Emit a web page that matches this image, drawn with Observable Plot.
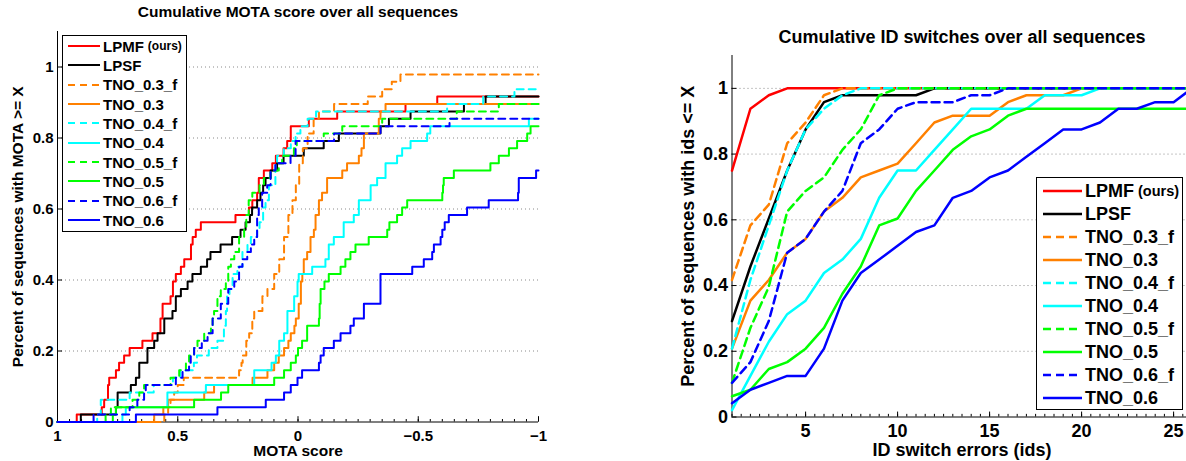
<!DOCTYPE html>
<html><head><meta charset="utf-8">
<script src="https://cdn.jsdelivr.net/npm/d3@7"></script>
<script src="https://cdn.jsdelivr.net/npm/@observablehq/plot@0.6"></script>
<style>
html,body{margin:0;padding:0;background:#fff;}
#wrap{position:relative;width:1186px;height:461px;overflow:hidden;font-family:"Liberation Sans",Arial,Helvetica,sans-serif;font-weight:bold;color:#000;}
#wrap svg.panel{position:absolute;top:0;}
.legend{position:absolute;background:#fff;border:1px solid #000;box-sizing:border-box;}
.legend .row{display:flex;align-items:center;white-space:nowrap;}
</style></head><body><div id="wrap"></div>
<script>
// ---------- common series info ----------
const seriesNames = ["LPMF","LPSF","TNO_0.3_f","TNO_0.3","TNO_0.4_f","TNO_0.4","TNO_0.5_f","TNO_0.5","TNO_0.6_f","TNO_0.6"];
const seriesColors = ["#ff0000","#000000","#ff8000","#ff8000","#00ffff","#00ffff","#00ff00","#00ff00","#0000ff","#0000ff"];
const seriesDashed = [false,false,true,false,true,false,true,false,true,false];
const ourNote = "(ours)";

// ---------- left panel: [MOTA threshold, number of sequences with MOTA >= X] ----------
const nSequences = 48;
const motaLPMF = [[1,0],[0.92,1],[0.816,2],[0.806,3],[0.79,5],[0.785,6],[0.757,7],[0.744,8],[0.723,9],[0.7,10],[0.647,11],[0.605,12],[0.572,14],[0.563,16],[0.53,17],[0.52,19],[0.508,20],[0.487,21],[0.473,22],[0.445,24],[0.438,25],[0.425,26],[0.404,27],[0.26,28],[0.204,29],[0.19,30],[0.17,31],[0.163,33],[0.142,34],[0.107,35],[0.092,36],[0.06,37],[0.045,38],[0.03,40],[-0.045,41],[-0.163,42],[-0.447,43],[-0.579,44],[-1,44]];
const motaLPSF = [[1,0],[0.903,1],[0.757,2],[0.75,4],[0.695,5],[0.674,6],[0.66,8],[0.626,10],[0.598,11],[0.584,12],[0.556,14],[0.522,15],[0.508,17],[0.487,18],[0.459,19],[0.439,20],[0.404,21],[0.378,22],[0.364,23],[0.322,24],[0.274,25],[0.239,26],[0.218,27],[0.2,28],[0.191,29],[0.17,30],[0.156,31],[0.145,32],[0.135,33],[0.114,34],[0.087,35],[0.06,36],[-0.024,37],[-0.107,38],[-0.17,39],[-0.343,40],[-0.378,41],[-0.468,42],[-0.69,43],[-0.78,44],[-1,44]];
const motaTNO03f = [[1,0],[0.556,1],[0.54,2],[0.53,3],[0.515,4],[0.5,5],[0.475,6],[0.245,7],[0.235,8],[0.23,9],[0.215,11],[0.203,12],[0.19,14],[0.182,15],[0.148,17],[0.127,18],[0.099,20],[0.078,22],[0.058,25],[0.04,28],[0.023,30],[0.009,32],[-0.005,35],[-0.02,37],[-0.04,39],[-0.065,41],[-0.087,42],[-0.15,43],[-0.29,44],[-0.35,45],[-0.39,46],[-0.426,47],[-1,47]];
const motaTNO03 = [[1,0],[0.598,1],[0.56,2],[0.54,3],[0.39,4],[0.349,5],[0.189,6],[0.127,7],[0.099,8],[0.08,9],[0.058,10],[0.04,11],[0.03,12],[0.015,13],[0.009,14],[-0.003,16],[-0.012,19],[-0.018,20],[-0.024,22],[-0.038,23],[-0.052,25],[-0.066,26],[-0.073,28],[-0.087,30],[-0.1,31],[-0.121,33],[-0.184,34],[-0.204,35],[-0.253,36],[-0.264,37],[-0.274,39],[-0.336,41],[-0.343,42],[-0.364,43],[-1,43]];
const motaTNO04f = [[1,0],[0.835,1],[0.82,3],[0.7,4],[0.6,5],[0.52,6],[0.489,7],[0.433,8],[0.42,9],[0.371,10],[0.335,11],[0.308,13],[0.3,15],[0.295,17],[0.285,18],[0.272,20],[0.252,21],[0.231,23],[0.21,24],[0.196,25],[0.17,26],[0.16,27],[0.145,29],[0.135,30],[0.121,32],[0.094,35],[0.087,36],[0.059,37],[0.03,38],[0.01,39],[-0.01,40],[-0.04,41],[-0.075,42],[-0.62,43],[-0.77,44],[-0.9,45],[-1,45]];
const motaTNO04 = [[1,0],[0.73,1],[0.716,2],[0.543,4],[0.383,5],[0.182,7],[0.11,8],[0.092,9],[0.078,11],[0.058,12],[0.044,15],[0.016,17],[0.002,19],[-0.003,20],[-0.059,21],[-0.114,22],[-0.128,24],[-0.149,25],[-0.19,27],[-0.232,28],[-0.253,30],[-0.302,32],[-0.329,33],[-0.364,35],[-0.412,36],[-0.433,37],[-0.468,38],[-0.537,39],[-0.55,40],[-0.96,41],[-1,41]];
const motaTNO05f = [[1,0],[0.8,1],[0.778,2],[0.688,3],[0.66,4],[0.64,5],[0.53,6],[0.494,7],[0.466,8],[0.453,9],[0.432,10],[0.418,11],[0.39,12],[0.362,13],[0.355,14],[0.349,15],[0.335,17],[0.321,18],[0.3,19],[0.29,21],[0.279,22],[0.265,23],[0.245,25],[0.224,26],[0.215,28],[0.205,30],[0.19,31],[0.16,32],[0.142,33],[0.114,34],[0.08,35],[0.066,36],[0.017,37],[0.005,38],[-0.107,39],[-0.184,40],[-0.35,41],[-0.66,42],[-0.835,43],[-1,43]];
const motaTNO05 = [[1,0],[0.77,1],[0.757,2],[0.432,3],[0.32,4],[0.29,5],[0.099,6],[0.058,7],[0.03,8],[0.009,9],[0.0,10],[-0.017,11],[-0.038,13],[-0.087,14],[-0.09,16],[-0.094,18],[-0.11,19],[-0.128,20],[-0.177,21],[-0.197,22],[-0.218,23],[-0.239,24],[-0.294,25],[-0.371,26],[-0.38,27],[-0.412,28],[-0.433,29],[-0.454,30],[-0.6,31],[-0.603,32],[-0.606,33],[-0.648,34],[-0.8,35],[-0.835,36],[-0.877,37],[-0.911,38],[-0.953,39],[-0.967,40],[-1,40]];
const motaTNO06f = [[1,0],[0.85,1],[0.7,2],[0.668,3],[0.64,4],[0.633,5],[0.508,6],[0.48,7],[0.453,8],[0.446,9],[0.432,10],[0.4,11],[0.376,12],[0.355,14],[0.321,16],[0.29,18],[0.265,19],[0.245,21],[0.231,22],[0.211,23],[0.196,24],[0.182,25],[0.17,28],[0.163,29],[0.149,31],[0.128,32],[0.114,34],[0.094,35],[0.031,36],[0.01,38],[-0.15,39],[-0.343,40],[-0.63,41],[-1,41]];
const motaTNO06 = [[1,0],[0.674,1],[0.335,2],[0.134,3],[0.058,4],[0.03,5],[0.002,6],[-0.017,7],[-0.087,8],[-0.094,9],[-0.107,10],[-0.149,11],[-0.177,12],[-0.218,13],[-0.232,14],[-0.274,16],[-0.343,20],[-0.475,21],[-0.523,22],[-0.558,23],[-0.565,24],[-0.593,25],[-0.6,26],[-0.61,27],[-0.627,28],[-0.703,29],[-0.793,30],[-0.915,31],[-0.918,33],[-0.99,34],[-1,34]];
const motaSeries = [motaLPMF,motaLPSF,motaTNO03f,motaTNO03,motaTNO04f,motaTNO04,motaTNO05f,motaTNO05,motaTNO06f,motaTNO06];
const motaTicks = [1,0.5,0,-0.5,-1];
const fracTicks = [0,0.2,0.4,0.6,0.8,1];
const gridTicks = [0.2,0.4,0.6,0.8,1];

// ---------- right panel: fraction of sequences with ids <= X ----------
const idsValues = [1,2,3,4,5,6,7,8,9,10,11,12,13,14,15,16,17,18,19,20,21,22,23,24,25,26];
const idsLPMF   = [0.75,0.938,0.979,1,1,1,1,1,1,1,1,1,1,1,1,1,1,1,1,1,1,1,1,1,1,1];
const idsLPSF   = [0.292,0.458,0.604,0.75,0.875,0.958,0.979,0.979,0.979,0.979,0.979,1,1,1,1,1,1,1,1,1,1,1,1,1,1,1];
const idsTNO03f = [0.417,0.583,0.646,0.833,0.896,0.979,1,1,1,1,1,1,1,1,1,1,1,1,1,1,1,1,1,1,1,1];
const idsTNO03  = [0.208,0.354,0.417,0.5,0.542,0.625,0.667,0.729,0.75,0.771,0.833,0.896,0.917,0.917,0.917,0.958,0.979,0.979,0.979,1,1,1,1,1,1,1];
const idsTNO04f = [0.208,0.417,0.583,0.75,0.875,0.938,0.979,1,1,1,1,1,1,1,1,1,1,1,1,1,1,1,1,1,1,1];
const idsTNO04  = [0.021,0.125,0.229,0.313,0.354,0.438,0.479,0.542,0.667,0.75,0.75,0.813,0.875,0.938,0.938,0.938,0.938,0.979,0.979,0.979,1,1,1,1,1,1];
const idsTNO05f = [0.104,0.271,0.396,0.625,0.688,0.729,0.813,0.875,0.979,1,1,1,1,1,1,1,1,1,1,1,1,1,1,1,1,1];
const idsTNO05  = [0.063,0.083,0.146,0.167,0.208,0.271,0.375,0.458,0.583,0.604,0.688,0.75,0.813,0.854,0.875,0.917,0.938,0.938,0.938,0.938,0.938,0.938,0.938,0.938,0.938,0.938];
const idsTNO06f = [0.104,0.167,0.292,0.5,0.542,0.625,0.688,0.833,0.875,0.938,0.958,0.958,0.958,0.979,0.979,1,1,1,1,1,1,1,1,1,1,1];
const idsTNO06  = [0.042,0.083,0.104,0.125,0.125,0.208,0.354,0.438,0.479,0.521,0.563,0.583,0.667,0.688,0.729,0.75,0.792,0.833,0.875,0.875,0.896,0.938,0.938,0.958,0.958,1];
const idsSeries = [idsLPMF,idsLPSF,idsTNO03f,idsTNO03,idsTNO04f,idsTNO04,idsTNO05f,idsTNO05,idsTNO06f,idsTNO06];
const idsTicks = [5,10,15,20,25];

// ---------- texts ----------
const leftTitle = "Cumulative MOTA score over all sequences";
const leftXLabel = "MOTA score";
const leftYLabel = "Percent of sequences with MOTA >= X";
const rightTitle = "Cumulative ID switches over all sequences";
const rightXLabel = "ID switch errors (ids)";
const rightYLabel = "Percent of sequences with ids <= X";

const FONT = '"Liberation Sans", Arial, Helvetica, sans-serif';
const wrap = document.getElementById("wrap");

const motaRows = motaSeries.flatMap((pts, i) => pts.map(([m, n]) => ({series: seriesNames[i], mota: m, frac: n / nSequences})));
const idsRows = idsSeries.flatMap((vals, i) => vals.map((v, j) => ({series: seriesNames[i], ids: idsValues[j], frac: v})));

const fmtMota = d => d < 0 ? "\u2212" + String(-d) : String(d);

// ---------- left plot ----------
const leftPlot = Plot.plot({
  width: 560, height: 461,
  marginLeft: 57, marginRight: 22, marginTop: 31, marginBottom: 39.5,
  x: {domain: [1, -1], label: null},
  y: {domain: [0, 1.1], label: null},
  style: {fontFamily: FONT, fontWeight: "bold", fontSize: "15px", color: "#000", background: "transparent", overflow: "visible"},
  marks: [
    Plot.ruleY(gridTicks, {stroke: "#8a8a8a", strokeDasharray: "1,3", strokeWidth: 1}),
    Plot.ruleX([1], {stroke: "#000", strokeWidth: 1}),
    Plot.ruleY([0], {stroke: "#000", strokeWidth: 1}),
    Plot.ruleX(motaTicks, {x: d => d, y1: 0, y2: 0.015, stroke: "#000"}),
    Plot.ruleX(d3.range(-1, 1.0001, 0.05), {x: d => d, y1: 0, y2: 0.007, stroke: "#000"}),
    Plot.ruleY(fracTicks, {y: d => d, x1: 1, x2: 0.979, stroke: "#000"}),
    ...seriesNames.map((name, i) => Plot.line(motaRows.filter(d => d.series === name), {
      x: "mota", y: "frac", curve: "step-after",
      stroke: seriesColors[i], strokeWidth: 2,
      strokeDasharray: seriesDashed[i] ? "7,5" : null
    })),
    Plot.axisX({ticks: motaTicks, tickSize: 0, tickPadding: 8, tickFormat: fmtMota, label: null}),
    Plot.axisY({ticks: fracTicks, tickSize: 0, tickPadding: 4, tickFormat: d => String(d), label: null}),
    Plot.text([leftTitle], {frameAnchor: "top", lineAnchor: "middle", dy: -19, text: d => d, fontSize: 15.5, fontWeight: "bold"}),
    Plot.text([leftXLabel], {frameAnchor: "bottom", lineAnchor: "middle", dy: 29, text: d => d, fontSize: 15.5, fontWeight: "bold"}),
    Plot.text([leftYLabel], {frameAnchor: "left", lineAnchor: "middle", dx: -39, rotate: -90, textAnchor: "middle", text: d => d, fontSize: 15.5, fontWeight: "bold"})
  ]
});
leftPlot.classList.add("panel");
leftPlot.style.left = "0px";
wrap.appendChild(leftPlot);

// ---------- right plot ----------
const rightPlot = Plot.plot({
  width: 520, height: 461,
  marginLeft: 51.5, marginRight: 8.5, marginTop: 55, marginBottom: 44.5,
  x: {domain: [1, 26], label: null},
  y: {domain: [0, 1.1], label: null},
  style: {fontFamily: FONT, fontWeight: "bold", fontSize: "18px", color: "#000", background: "transparent", overflow: "visible"},
  marks: [
    Plot.ruleY(gridTicks, {stroke: "#8a8a8a", strokeDasharray: "1,3", strokeWidth: 1}),
    Plot.ruleX([1], {stroke: "#000", strokeWidth: 1}),
    Plot.ruleY([0], {stroke: "#000", strokeWidth: 1}),
    Plot.ruleX(idsTicks, {x: d => d, y1: 0, y2: 0.015, stroke: "#000"}),
    Plot.ruleX(d3.range(1, 26.001, 0.5), {x: d => d, y1: 0, y2: 0.008, stroke: "#000"}),
    Plot.ruleY(fracTicks, {y: d => d, x1: 1, x2: 1.27, stroke: "#000"}),
    ...seriesNames.map((name, i) => Plot.line(idsRows.filter(d => d.series === name), {
      x: "ids", y: "frac",
      stroke: seriesColors[i], strokeWidth: 2.5,
      strokeDasharray: seriesDashed[i] ? "8,5" : null
    })),
    Plot.axisX({ticks: idsTicks, tickSize: 0, tickPadding: 7, tickFormat: d => String(d), label: null}),
    Plot.axisY({ticks: fracTicks, tickSize: 0, tickPadding: 4, tickFormat: d => String(d), label: null}),
    Plot.text([rightTitle], {frameAnchor: "top", lineAnchor: "middle", dy: -18, text: d => d, fontSize: 18, fontWeight: "bold"}),
    Plot.text([rightXLabel], {frameAnchor: "bottom", lineAnchor: "middle", dy: 33.5, text: d => d, fontSize: 18, fontWeight: "bold"}),
    Plot.text([rightYLabel], {frameAnchor: "left", lineAnchor: "middle", dx: -43.5, rotate: -90, textAnchor: "middle", text: d => d, fontSize: 18, fontWeight: "bold"})
  ]
});
rightPlot.classList.add("panel");
rightPlot.style.left = "680px";
wrap.appendChild(rightPlot);

// ---------- legends ----------
function addLegend(o) {
  const box = document.createElement("div");
  box.className = "legend";
  Object.assign(box.style, {left: o.left + "px", top: o.top + "px", width: o.width + "px", height: o.height + "px", paddingTop: o.padTop + "px"});
  seriesNames.forEach((name, i) => {
    const row = document.createElement("div");
    row.className = "row";
    row.style.height = o.rowH + "px";
    row.style.paddingLeft = o.padLeft + "px";
    const dash = seriesDashed[i] ? `stroke-dasharray="${o.dash}"` : "";
    row.innerHTML = `<svg width="${o.sampleW}" height="8" style="flex:none;display:block"><line x1="0" y1="4" x2="${o.sampleW}" y2="4" stroke="${seriesColors[i]}" stroke-width="${o.strokeWidth}" ${dash}/></svg>` +
      `<span style="margin-left:${o.gap}px;font-size:${o.fontSize}px;line-height:1">${name}</span>` +
      (i === 0 ? `<span style="margin-left:4px;font-size:${o.noteSize}px;line-height:1">${ourNote}</span>` : "");
    box.appendChild(row);
  });
  wrap.appendChild(box);
}
addLegend({left: 62, top: 35, width: 125, height: 197, padTop: 0.5, rowH: 19.33, padLeft: 5, sampleW: 32, gap: 3, fontSize: 15, noteSize: 12, strokeWidth: 2, dash: "7,5"});
addLegend({left: 1036, top: 177, width: 147, height: 233, padTop: 1.5, rowH: 23, padLeft: 6, sampleW: 39, gap: 3, fontSize: 18, noteSize: 14.5, strokeWidth: 2.5, dash: "8,5"});
</script></body></html>
